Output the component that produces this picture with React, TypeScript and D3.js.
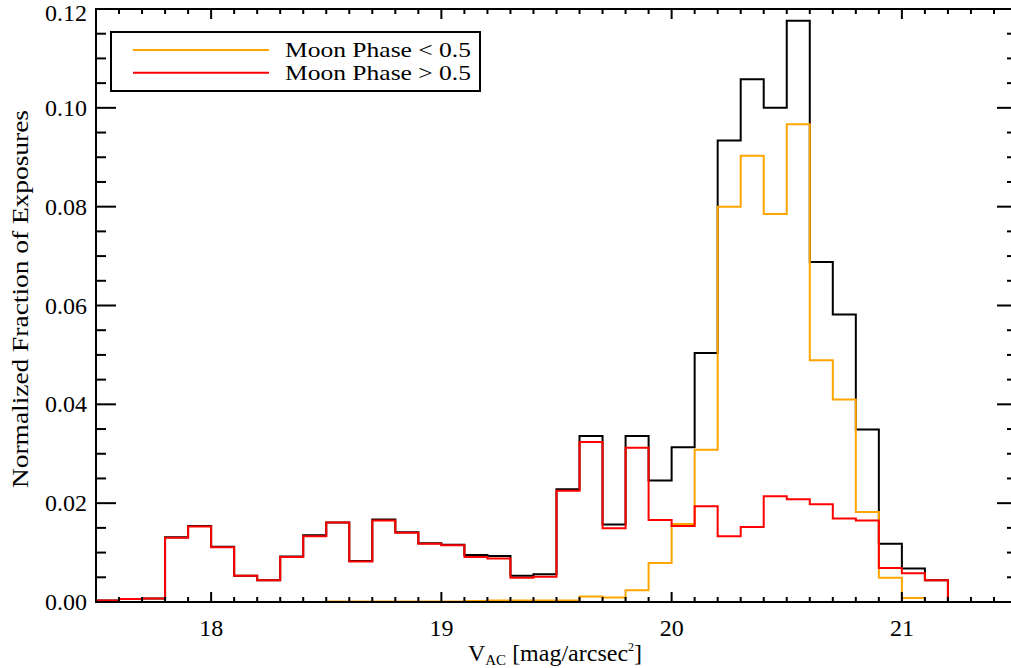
import React from "react";
import * as d3 from "d3";

const binCenters = [
  17.55, 17.65, 17.75, 17.85, 17.95, 18.05, 18.15, 18.25, 18.35, 18.45,
  18.55, 18.65, 18.75, 18.85, 18.95, 19.05, 19.15, 19.25, 19.35, 19.45,
  19.55, 19.65, 19.75, 19.85, 19.95, 20.05, 20.15, 20.25, 20.35, 20.45,
  20.55, 20.65, 20.75, 20.85, 20.95, 21.05, 21.15, 21.25,
];

const allExposures = [
  0.0003, 0.0006, 0.0007, 0.0131, 0.0154, 0.0112, 0.0053, 0.0044, 0.0092, 0.0135,
  0.0161, 0.0083, 0.0167, 0.0141, 0.0119, 0.0116, 0.0095, 0.0093, 0.0053, 0.0056,
  0.0228, 0.0336, 0.0157, 0.0336, 0.0246, 0.0313, 0.0504, 0.0934, 0.1058, 0.1,
  0.1176, 0.0688, 0.0582, 0.0349, 0.0118, 0.0068, 0.0044, 0.0,
];

const moonLow = [
  0, 0, 0, 0, 0, 0, 0, 0, 0, 0,
  0.0001, 0.0001, 0.0001, 0.0001, 0.0001, 0.0001, 0.0002, 0.0003, 0.0003, 0.0003,
  0.0003, 0.0011, 0.0009, 0.0024, 0.0079, 0.0158, 0.0308, 0.08, 0.0903, 0.0785,
  0.0967, 0.0489, 0.041, 0.0182, 0.0049, 0.0008, 0.0,
];

const moonHigh = [
  0.0003, 0.0006, 0.0007, 0.013, 0.0153, 0.0111, 0.0053, 0.0044, 0.0091, 0.0133,
  0.0161, 0.0082, 0.0165, 0.014, 0.0118, 0.0115, 0.0091, 0.0088, 0.0049, 0.0051,
  0.0225, 0.0324, 0.0149, 0.0312, 0.0166, 0.0154, 0.0194, 0.0133, 0.0152, 0.0214,
  0.0208, 0.0198, 0.0169, 0.0165, 0.0069, 0.0058, 0.0044, 0.0,
];

const xMajorTicks = [18, 19, 20, 21];
const yMajorTicks = [0, 0.02, 0.04, 0.06, 0.08, 0.1, 0.12];
const legendLabels = ["Moon Phase < 0.5", "Moon Phase > 0.5"];
const legendColors = ["#FFA500", "#FF0000"];

const W = 1011;
const H = 668;
const M = { left: 96, right: 1017, top: 9, bottom: 602 };
const FONT = "'Liberation Serif', 'DejaVu Serif', serif";

export default function App() {
  const x = d3.scaleLinear().domain([17.5, 21.5]).range([M.left, M.right]);
  const y = d3.scaleLinear().domain([0, 0.12]).range([M.bottom, M.top]);

  const stepPath = (vals: number[]) => {
    const pts: [number, number][] = vals.map((v, i) => [binCenters[i] - 0.05, v]);
    const last = vals.length - 1;
    pts.push([binCenters[last], vals[last]]);
    const line = d3
      .line<[number, number]>()
      .x((d) => x(d[0]))
      .y((d) => y(d[1]))
      .curve(d3.curveStepAfter);
    return line(pts) || "";
  };

  const xMinor = d3.range(175, 216).map((v) => v / 10);
  const yMinor = d3.range(0, 25).map((v) => v * 0.005);

  return (
    <svg width={W} height={H} style={{ position: "absolute", left: 0, top: 0, background: "#fff" }} fontFamily={FONT}>
      <defs>
        <clipPath id="plot">
          <rect x={M.left} y={M.top} width={M.right - M.left} height={M.bottom - M.top} />
        </clipPath>
      </defs>
      <rect x={0} y={0} width={W} height={H} fill="#fff" />
      <g clipPath="url(#plot)" fill="none" strokeWidth={2} strokeLinejoin="miter">
        <path d={stepPath(allExposures)} stroke="#000" />
        <path d={stepPath(moonLow)} stroke="#FFA500" />
        <path d={stepPath(moonHigh)} stroke="#FF0000" />
      </g>
      <rect x={M.left} y={M.top} width={M.right - M.left} height={M.bottom - M.top} fill="none" stroke="#000" strokeWidth={2} />
      {xMinor.map((t) => {
        const major = Math.abs(t - Math.round(t)) < 1e-6;
        const len = major ? 10 : 5;
        return (
          <g key={"xm" + t} stroke="#000" strokeWidth={2}>
            <line x1={x(t)} x2={x(t)} y1={M.bottom} y2={M.bottom - len} />
            <line x1={x(t)} x2={x(t)} y1={M.top} y2={M.top + len} />
          </g>
        );
      })}
      {yMinor.map((t, i) => {
        const major = i % 4 === 0;
        const len = major ? 20 : 10;
        return (
          <g key={"ym" + i} stroke="#000" strokeWidth={2}>
            <line x1={M.left} x2={M.left + len} y1={y(t)} y2={y(t)} />
            <line x1={M.right} x2={M.right - len} y1={y(t)} y2={y(t)} />
          </g>
        );
      })}
      {xMajorTicks.map((t) => (
        <text key={"xl" + t} x={x(t)} y={636} textAnchor="middle" fontSize={24} fill="#000">
          {t}
        </text>
      ))}
      {yMajorTicks.map((t) => (
        <text key={"yl" + t} x={87} y={Math.max(y(t) + 8, 21)} textAnchor="end" fontSize={24} fill="#000">
          {t.toFixed(2)}
        </text>
      ))}
      <text
        transform={`translate(28, 299) rotate(-90)`}
        textAnchor="middle"
        fontSize={24}
        fill="#000"
        textLength={378}
        lengthAdjust="spacingAndGlyphs"
      >
        Normalized Fraction of Exposures
      </text>
      <text x={555} y={661} textAnchor="middle" fontSize={24} fill="#000">
        V
        <tspan fontSize={15} dy={4}>AC</tspan>
        <tspan dy={-4}> [mag/arcsec</tspan>
        <tspan fontSize={12} dy={-10}>2</tspan>
        <tspan dy={10}>]</tspan>
      </text>
      <rect x={111} y={32} width={369} height={59} fill="#fff" stroke="#000" strokeWidth={2} />
      {legendLabels.map((lab, i) => (
        <g key={lab}>
          <line x1={133} x2={269} y1={50 + i * 22.7} y2={50 + i * 22.7} stroke={legendColors[i]} strokeWidth={2} />
          <text
            x={285}
            y={57 + i * 22.7}
            fontSize={21}
            fill="#000"
            textLength={186}
            lengthAdjust="spacingAndGlyphs"
          >
            {lab}
          </text>
        </g>
      ))}
    </svg>
  );
}
